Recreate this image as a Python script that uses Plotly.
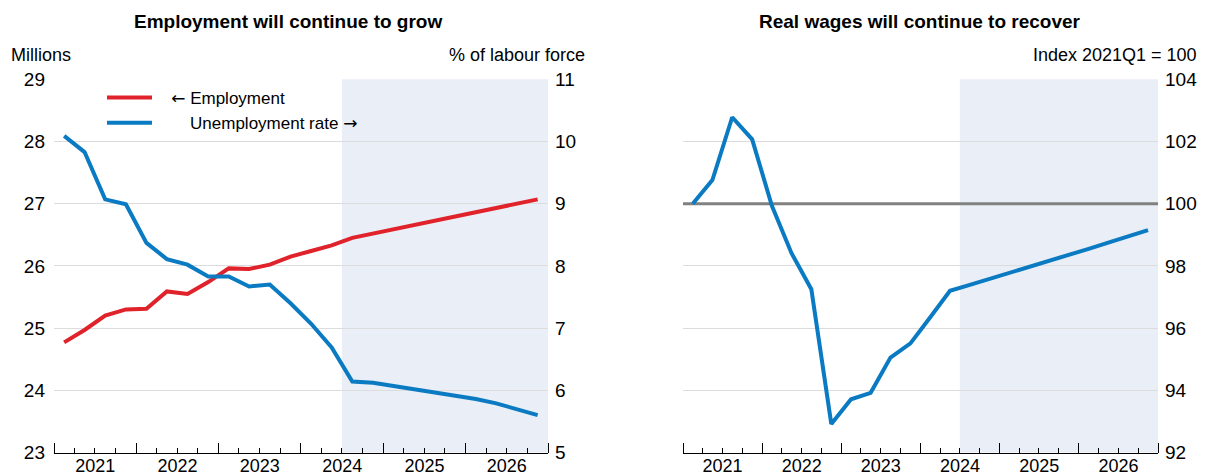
import pandas as pd
import plotly.graph_objects as go

# ---------------- data ----------------
quarters = ["2021Q1", "2021Q2", "2021Q3", "2021Q4",
            "2022Q1", "2022Q2", "2022Q3", "2022Q4",
            "2023Q1", "2023Q2", "2023Q3", "2023Q4",
            "2024Q1", "2024Q2", "2024Q3", "2024Q4",
            "2025Q1", "2025Q2", "2025Q3", "2025Q4",
            "2026Q1", "2026Q2", "2026Q3", "2026Q4"]

employment = [24.77, 24.97, 25.20, 25.30, 25.31, 25.59, 25.55, 25.74,
              25.96, 25.95, 26.02, 26.15, 26.24, 26.33, 26.45, 26.52,
              26.58, 26.65, 26.72, 26.79, 26.86, 26.93, 27.00, 27.07]

unemployment = [10.09, 9.83, 9.07, 8.99, 8.37, 8.11, 8.02, 7.83,
                7.83, 7.67, 7.70, 7.40, 7.07, 6.69, 6.14, 6.12,
                6.07, 6.02, 5.97, 5.92, 5.86, 5.79, 5.70, 5.60]

real_wages = [100.00, 100.76, 102.78, 102.07, 99.93, 98.41, 97.25, 92.92,
              93.71, 93.92, 95.05, 95.51, 96.35, 97.20, 97.39, 97.58,
              97.77, 97.96, 98.15, 98.35, 98.55, 98.75, 98.95, 99.15]

index_base = 100
forecast_start = "2024-07-01"
x_range = ["2021-01-01", "2027-01-01"]

titles = ["Employment will continue to grow", "Real wages will continue to recover"]

# ---------------- helpers ----------------
def mid_quarter(q):
    p = pd.Period(q, freq="Q")
    s, e = p.start_time, p.end_time
    return (s + (e - s) / 2).strftime("%Y-%m-%d %H:%M")

dates = [mid_quarter(q) for q in quarters]

W, H = 1207, 475
FONT = "Liberation Sans, Arial, sans-serif"
RED = "#e0232b"
BLUE = "#0a7bc2"
SHADE = "#eaeef6"
GRID = "#dcdcdc"
ARROW = '<span style="font-family:DejaVu Sans">{}</span>'
NB = "\u00a0"

# pixel geometry of the plot areas
L1, R1 = 54, 548
L2, R2 = 683, 1158
TOP, BOT = 79.3, 452.5

def px_x(p):
    return p / W

def px_y(p):
    return 1 - p / H

fig = go.Figure()

fig.add_trace(go.Scatter(x=dates, y=employment, mode="lines",
                         line=dict(color=RED, width=4),
                         name=NB * 3 + ARROW.format("\u2190") + " Employment",
                         xaxis="x", yaxis="y"))
fig.add_trace(go.Scatter(x=dates, y=unemployment, mode="lines",
                         line=dict(color=BLUE, width=4),
                         name=NB * 7 + "Unemployment rate " + ARROW.format("\u2192"),
                         xaxis="x", yaxis="y2"))
fig.add_trace(go.Scatter(x=x_range, y=[index_base, index_base], mode="lines",
                         line=dict(color="#808080", width=3),
                         showlegend=False, hoverinfo="skip", xaxis="x2", yaxis="y3"))
fig.add_trace(go.Scatter(x=dates, y=real_wages, mode="lines",
                         line=dict(color=BLUE, width=4),
                         showlegend=False, xaxis="x2", yaxis="y3"))

xcommon = dict(type="date", range=x_range, dtick="M12", tick0="2021-01-01",
               ticklabelmode="period", tickformat="%Y",
               ticks="inside", ticklen=10, tickcolor="black", tickwidth=1,
               showline=True, linecolor="black", linewidth=1,
               showgrid=False, zeroline=False, automargin=False,
               ticklabelstandoff=-3,
               tickfont=dict(size=18, color="black", family=FONT),
               minor=dict(ticks="inside", ticklen=5, dtick="M3",
                          tick0="2021-01-01", tickcolor="black", showgrid=False))

ydom = [px_y(BOT), px_y(TOP)]

fig.update_layout(
    width=W, height=H,
    margin=dict(l=0, r=0, t=0, b=0, autoexpand=False),
    paper_bgcolor="white", plot_bgcolor="white",
    font=dict(family=FONT, color="black"),
    xaxis=dict(domain=[px_x(L1), px_x(R1)], anchor="y", **xcommon),
    xaxis2=dict(domain=[px_x(L2), px_x(R2)], anchor="y3", **xcommon),
    yaxis=dict(domain=ydom, anchor="x", range=[23, 29], dtick=1,
               showgrid=True, gridcolor=GRID, gridwidth=1, automargin=False,
               zeroline=False, showline=False, ticks="",
               tickfont=dict(size=19, color="black", family=FONT),
               ticklabelstandoff=8),
    yaxis2=dict(overlaying="y", anchor="x", side="right", range=[5, 11], dtick=1,
                showgrid=False, zeroline=False, showline=False, ticks="",
                automargin=False,
                tickfont=dict(size=19, color="black", family=FONT),
                ticklabelstandoff=6),
    yaxis3=dict(domain=ydom, anchor="x2", side="right", range=[92, 104], dtick=2,
                showgrid=True, gridcolor=GRID, gridwidth=1, automargin=False,
                zeroline=False, showline=False, ticks="",
                tickfont=dict(size=19, color="black", family=FONT),
                ticklabelstandoff=6),
    legend=dict(x=px_x(102), y=px_y(80), xanchor="left", yanchor="top",
                bgcolor="rgba(0,0,0,0)", font=dict(size=17, family=FONT),
                tracegroupgap=0, itemwidth=45),
    showlegend=True,
)

# forecast shading
for xr, yr in [("x", "y domain"), ("x2", "y3 domain")]:
    fig.add_shape(type="rect", xref=xr, yref=yr,
                  x0=forecast_start, x1=x_range[1], y0=0, y1=1,
                  fillcolor=SHADE, line=dict(width=0), layer="below")

# titles and unit labels
fig.add_annotation(text="<b>" + titles[0] + "</b>", xref="paper", yref="paper",
                   x=px_x(288), y=px_y(22), showarrow=False, xanchor="center",
                   yanchor="middle", font=dict(size=19, family=FONT))
fig.add_annotation(text="<b>" + titles[1] + "</b>", xref="paper", yref="paper",
                   x=px_x(920), y=px_y(22), showarrow=False, xanchor="center",
                   yanchor="middle", font=dict(size=19, family=FONT))
fig.add_annotation(text="Millions", xref="paper", yref="paper",
                   x=px_x(9), y=px_y(55), showarrow=False, xanchor="left",
                   yanchor="middle", font=dict(size=18, family=FONT))
fig.add_annotation(text="% of labour force", xref="paper", yref="paper",
                   x=px_x(587), y=px_y(55), showarrow=False, xanchor="right",
                   yanchor="middle", font=dict(size=18, family=FONT))
fig.add_annotation(text="Index 2021Q1 = 100", xref="paper", yref="paper",
                   x=px_x(1199), y=px_y(55), showarrow=False, xanchor="right",
                   yanchor="middle", font=dict(size=18, family=FONT))

fig.write_html("out.html", config={"displayModeBar": False},
               post_script="document.body.style.margin='0';document.body.style.padding='0';")
